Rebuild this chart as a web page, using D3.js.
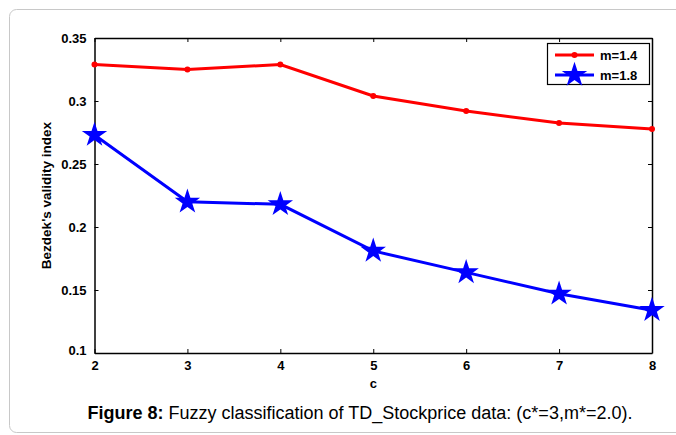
<!DOCTYPE html>
<html>
<head>
<meta charset="utf-8">
<script src="https://d3js.org/d3.v7.min.js"></script>
<style>
  body { margin: 0; background: #fff; }
  text { font-family: Arial, "Liberation Sans", sans-serif; }
</style>
</head>
<body>
<svg width="676" height="435"></svg>
<script>
// data
var cValues = [2, 3, 4, 5, 6, 7, 8];
var m14 = [0.329, 0.325, 0.329, 0.304, 0.292, 0.2825, 0.2778];
var m18 = [0.273, 0.220, 0.218, 0.181, 0.164, 0.147, 0.134];
var yTicks = [0.1, 0.15, 0.2, 0.25, 0.3, 0.35];
var seriesNames = ['m=1.4', 'm=1.8'];

var W = 676, H = 435,
    L = 94.5, R = 652, T = 38, B = 353;
var svg = d3.select('svg');

 // outer frame
svg.append('rect')
  .attr('x', 9.5).attr('y', 9.5)
  .attr('width', 700).attr('height', 423)
  .attr('rx', 7)
  .attr('fill', 'none').attr('stroke', '#c8c8c8');

var sx = d3.scaleLinear().domain([2, 8]).range([L, R]),
    sy = d3.scaleLinear().domain([0.1, 0.35]).range([B, T]);

var g = svg.append('g');

 // axes, MATLAB style: ticks inside on all four sides
var axB = g.append('g').attr('transform', 'translate(0,' + B + ')')
  .call(d3.axisBottom(sx).tickValues(cValues).tickFormat(d3.format('d')).tickSizeInner(-4).tickSizeOuter(0).tickPadding(6));
var axT = g.append('g').attr('transform', 'translate(0,' + T + ')')
  .call(d3.axisTop(sx).tickValues(cValues).tickFormat('').tickSizeInner(-4).tickSizeOuter(0));
var axL = g.append('g').attr('transform', 'translate(' + L + ',0)')
  .call(d3.axisLeft(sy).tickValues(yTicks).tickFormat(function(d) { return String(+d.toFixed(2)); }).tickSizeInner(-4).tickSizeOuter(0).tickPadding(8));
var axR = g.append('g').attr('transform', 'translate(' + R + ',0)')
  .call(d3.axisRight(sy).tickValues(yTicks).tickFormat('').tickSizeInner(-4).tickSizeOuter(0));

[axB, axT, axL, axR].forEach(function(a) {
  a.selectAll('path').attr('stroke', '#000').attr('stroke-width', 1.5);
  a.selectAll('line').attr('stroke', '#000');
  a.selectAll('text').attr('fill', '#000').style('font-size', '13px').style('font-weight', 'bold');
});
axB.selectAll('text').attr('dy', '0.85em');
axL.selectAll('text').attr('dy', '0.32em');
// 0.1 label sits a little lower in the original
axL.selectAll('.tick').filter(function(d) { return d === 0.1; }).select('text').attr('dy', '0.1em');

 // lines
var line = d3.line().x(function(d, i) { return sx(cValues[i]); }).y(function(d) { return sy(d); });

g.append('path').datum(m14)
  .attr('d', line).attr('fill', 'none').attr('stroke', '#ff0000').attr('stroke-width', 3);
g.selectAll('.dot').data(m14).enter().append('circle')
  .attr('class', 'dot')
  .attr('cx', function(d, i) { return sx(cValues[i]); })
  .attr('cy', function(d) { return sy(d); })
  .attr('r', 3).attr('fill', '#ff0000');

g.append('path').datum(m18)
  .attr('d', line).attr('fill', 'none').attr('stroke', '#0000ff').attr('stroke-width', 3);
var star = d3.symbol().type(d3.symbolStar).size(200);
g.selectAll('.star').data(m18).enter().append('path')
  .attr('class', 'star')
  .attr('transform', function(d, i) { return 'translate(' + sx(cValues[i]) + ',' + sy(d) + ')'; })
  .attr('d', star).attr('fill', '#0000ff');

 // legend
var lg = g.append('g').attr('transform', 'translate(547,43)');
lg.append('rect').attr('x', 0.5).attr('y', 0.5).attr('width', 102).attr('height', 41)
  .attr('fill', '#fff').attr('stroke', '#000').attr('stroke-width', 1.2);
lg.append('line').attr('x1', 8).attr('x2', 47).attr('y1', 12).attr('y2', 12)
  .attr('stroke', '#ff0000').attr('stroke-width', 3);
lg.append('circle').attr('cx', 27.5).attr('cy', 12).attr('r', 3).attr('fill', '#ff0000');
lg.append('line').attr('x1', 8).attr('x2', 47).attr('y1', 32).attr('y2', 32)
  .attr('stroke', '#0000ff').attr('stroke-width', 3);
lg.append('path').attr('transform', 'translate(27.5,32)').attr('d', star).attr('fill', '#0000ff');
lg.selectAll('.lt').data(seriesNames).enter().append('text')
  .attr('x', 53).attr('y', function(d, i) { return 12 + i * 20; })
  .attr('dy', '0.35em')
  .style('font-size', '13px').style('font-weight', 'bold')
  .text(function(d) { return d; });

 // axis titles
svg.append('text').attr('x', (L + R) / 2).attr('y', 388)
  .attr('text-anchor', 'middle').style('font-size', '13px').style('font-weight', 'bold').text('c');
svg.append('text').attr('transform', 'translate(51,' + (T + B) / 2 + ') rotate(-90)')
  .attr('text-anchor', 'middle').style('font-size', '13.5px').style('font-weight', 'bold')
  .text("Bezdek's validity index");

 // caption
var cap = svg.append('text').attr('x', 360).attr('y', 419).attr('text-anchor', 'middle').style('font-size', '18px');
cap.append('tspan').style('font-weight', 'bold').text('Figure 8:');
cap.append('tspan').text(' Fuzzy classification of TD_Stockprice data: (c*=3,m*=2.0).');
</script>
</body>
</html>
